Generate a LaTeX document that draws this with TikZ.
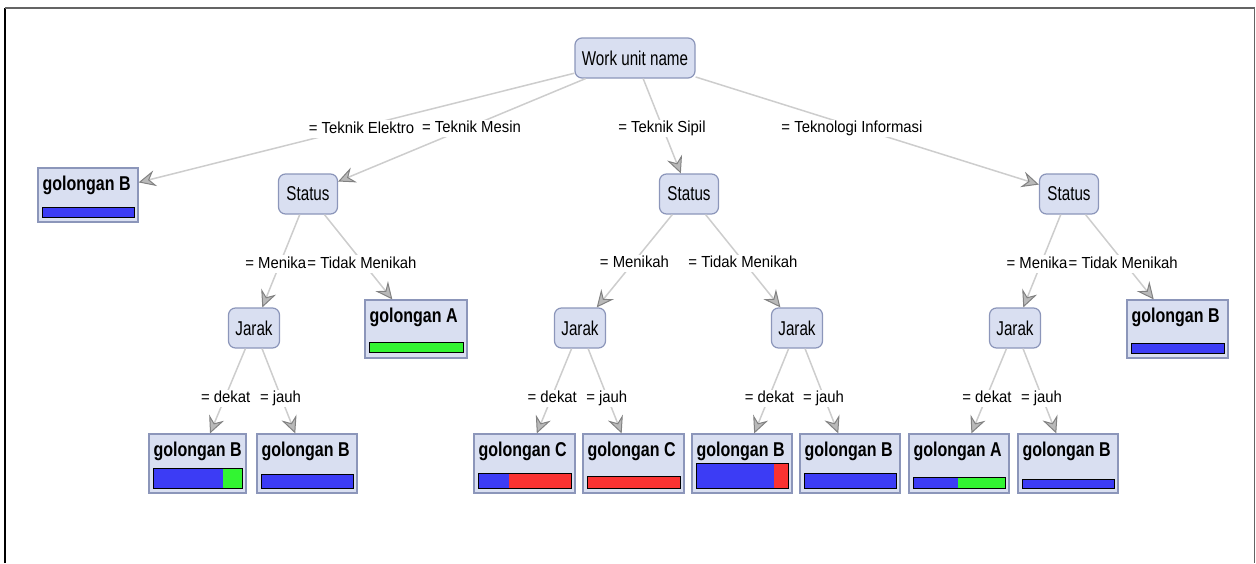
\documentclass[tikz,border=0pt]{standalone}
\usepackage{fontspec}
\setmainfont{Liberation Sans}
\newfontfamily\splitfont[FakeStretch=0.76]{Liberation Sans}
\newfontfamily\leaffont[FakeStretch=0.8]{Liberation Sans}
\newfontfamily\condfont[FakeStretch=0.93]{Liberation Sans}
\usepackage{tikz}
\usetikzlibrary{arrows.meta, positioning, calc}
\definecolor{boxfill}{RGB}{217,223,241}
\definecolor{boxdraw}{RGB}{140,150,186}
\definecolor{barblue}{RGB}{60,60,245}
\definecolor{bargreen}{RGB}{50,245,50}
\definecolor{barred}{RGB}{250,50,50}
\definecolor{edgegray}{RGB}{205,205,205}
\definecolor{tipdraw}{RGB}{130,130,130}
\definecolor{tipfill}{RGB}{185,185,185}
\definecolor{framegray}{RGB}{100,100,100}
\tikzset{
  split/.style={
    rectangle, rounded corners=7pt, minimum height=40pt, inner xsep=6pt,
    draw=boxdraw, fill=boxfill, line width=1.2pt, text centered,
    font=\splitfont\fontsize{20}{24}\selectfont, text=black
  },
  leafbox/.style={
    rectangle, draw=boxdraw, fill=boxfill, line width=1.2pt, inner sep=0pt
  },
  leaftext/.style={
    anchor=north west, inner sep=0pt,
    font=\leaffont\bfseries\fontsize{20}{24}\selectfont, text=black
  },
  bar/.style={draw=black, line width=1pt},
  branch/.style={
    draw=edgegray, line width=1.5pt,
    -{Stealth[length=17pt, width=16pt, inset=6pt, fill=tipfill, color=tipdraw, line width=1pt]}
  },
  cond/.style={
    fill=white, inner sep=1pt, text=black, text height=12pt, text depth=3.5pt,
    yshift=-2.5pt, font=\condfont\fontsize{16}{19}\selectfont
  }
}
\begin{document}
\begin{tikzpicture}[x=1pt, y=-1pt]
  \useasboundingbox (0,0) rectangle (1256,563);

  % Frame
  \draw[black, line width=1.5pt] (5,563) -- (5,8);
  \draw[framegray, line width=1.5pt] (5,8) -- (1254.5,8) -- (1254.5,563);

  % Split nodes
  \node[split, minimum width=120pt] (root) at (635,58) {Work unit name};
  \foreach \n/\x in {status1/308, status2/689, status3/1069}
    \node[split, minimum width=59pt] (\n) at (\x,194) {Status};
  \foreach \n/\x in {jarak1/254, jarak2/580, jarak3/797, jarak4/1015}
    \node[split, minimum width=51pt] (\n) at (\x,328) {Jarak};

  % Leaves: name/left/right/top/bottom/class/bar top/bar bottom/blue share/other colour
  \foreach \n/\xa/\xb/\ya/\yb/\lab/\bt/\bb/\f/\c in {
    leaf0/38/138/168/222/B/207/217/1/barblue,
    leaf1/365/467/300/358/A/342/352/0/bargreen,
    leaf2/1127/1228/300/358/B/343/353/1/barblue,
    leaf3/149/246/434/493/B/468/488/0.79/bargreen,
    leaf4/257/357/434/493/B/474/488/1/barblue,
    leaf5/474/575/434/493/C/473/488/0.33/barred,
    leaf6/583/684/434/493/C/476/488/0/barred,
    leaf7/692/792/434/493/B/463/488/0.85/barred,
    leaf8/800/900/434/493/B/473/488/1/barblue,
    leaf9/909/1009/434/493/A/477/488/0.49/bargreen,
    leaf10/1018/1118/434/493/B/479/488/1/barblue} {
    \node[leafbox, minimum width={\xb-\xa}, minimum height={\yb-\ya}]
      (\n) at ({(\xa+\xb)/2},{(\ya+\yb)/2}) {};
    \node[leaftext] at ([xshift=5pt, yshift=-8pt]\n.north west) {golongan \lab};
    \fill[\c] ({\xa+4},\bt) rectangle ({\xb-4},\bb);
    \fill[barblue] ({\xa+4},\bt) rectangle ({\xa+4+\f*(\xb-\xa-8)},\bb);
    \draw[bar] ({\xa+4},\bt) rectangle ({\xb-4},\bb);
  }

  % Branches
  \foreach \a/\b in {root/leaf0, root/status1, root/status2, root/status3,
                     status1/jarak1, status1/leaf1, status2/jarak2, status2/jarak3,
                     status3/jarak4, status3/leaf2,
                     jarak1/leaf3, jarak1/leaf4, jarak2/leaf5, jarak2/leaf6,
                     jarak3/leaf7, jarak3/leaf8, jarak4/leaf9, jarak4/leaf10}
    \draw[branch] (\a) -- (\b);

  % Conditions, half way between the centres
  \foreach \a/\b/\t in {root/leaf0/= Teknik Elektro, root/status1/= Teknik Mesin,
                        root/status2/= Teknik Sipil, root/status3/= Teknologi Informasi,
                        status2/jarak2/= Menikah, status2/jarak3/= Tidak Menikah,
                        jarak1/leaf3/= dekat, jarak1/leaf4/= jauh,
                        jarak2/leaf5/= dekat, jarak2/leaf6/= jauh,
                        jarak3/leaf7/= dekat, jarak3/leaf8/= jauh,
                        jarak4/leaf9/= dekat, jarak4/leaf10/= jauh}
    \path (\a.center) -- node[cond] {\t} (\b.center);

  % Overlapping conditions
  \path (status1.center) -- node[cond] (tidak1) {= Tidak Menikah} (leaf1.center);
  \node[cond, anchor=east, inner xsep=0pt, yshift=2.5pt] at (tidak1.west) {= Menika};
  \path (status3.center) -- node[cond] (tidak3) {= Tidak Menikah} (leaf2.center);
  \node[cond, anchor=east, inner xsep=0pt, yshift=2.5pt] at (tidak3.west) {= Menika};
\end{tikzpicture}
\end{document}
